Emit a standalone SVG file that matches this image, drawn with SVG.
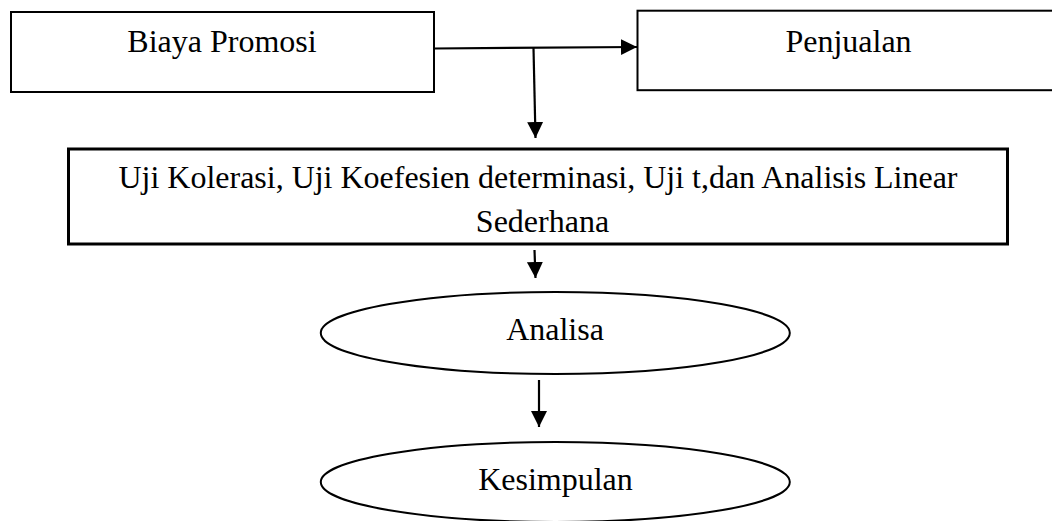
<svg xmlns="http://www.w3.org/2000/svg" width="1052" height="521" viewBox="0 0 1052 521">
<style>
.box{fill:#fff;stroke:#000;stroke-width:2}
.box3{fill:#fff;stroke:#000;stroke-width:3}
.ell{fill:#fff;stroke:#000;stroke-width:2}
.t{font-family:"Liberation Serif","Times New Roman",serif;font-size:32px;fill:#000;text-anchor:middle}
.c{fill:none;stroke:#000;stroke-width:2.2}
</style>
<defs>
<marker id="ah" markerUnits="userSpaceOnUse" markerWidth="18" markerHeight="18" refX="16" refY="8" orient="auto">
<path d="M0,0 L16,8 L0,16 Z" fill="#000"/>
</marker>
</defs>
<rect width="1052" height="521" fill="#fff"/>
<g id="connectors">
<path class="c" d="M434,48.5 L637,47" marker-end="url(#ah)"/>
<path class="c" d="M533.5,48 L535.5,138" marker-end="url(#ah)"/>
<path class="c" d="M534.5,250 L535.5,278" marker-end="url(#ah)"/>
<path class="c" d="M539,380 L539,427" marker-end="url(#ah)"/>
</g>
<g id="biaya-promosi">
<rect class="box" x="11" y="12" width="423" height="80"/>
<text class="t" x="222" y="51.7">Biaya Promosi</text>
</g>
<g id="penjualan">
<rect class="box" x="637.5" y="10.7" width="430" height="79.5"/>
<text class="t" x="848.5" y="51.7">Penjualan</text>
</g>
<g id="uji">
<rect class="box3" x="68.5" y="149" width="939" height="95"/>
<text class="t" x="538" y="188.3" textLength="839" lengthAdjust="spacingAndGlyphs">Uji Kolerasi, Uji Koefesien determinasi, Uji t,dan Analisis Linear</text>
<text class="t" x="542.5" y="231.7">Sederhana</text>
</g>
<g id="analisa">
<ellipse class="ell" cx="555.3" cy="333" rx="234.5" ry="41"/>
<text class="t" x="555" y="340">Analisa</text>
</g>
<g id="kesimpulan">
<ellipse class="ell" cx="555.3" cy="482" rx="234.5" ry="40"/>
<text class="t" x="555.5" y="490">Kesimpulan</text>
</g>
</svg>
